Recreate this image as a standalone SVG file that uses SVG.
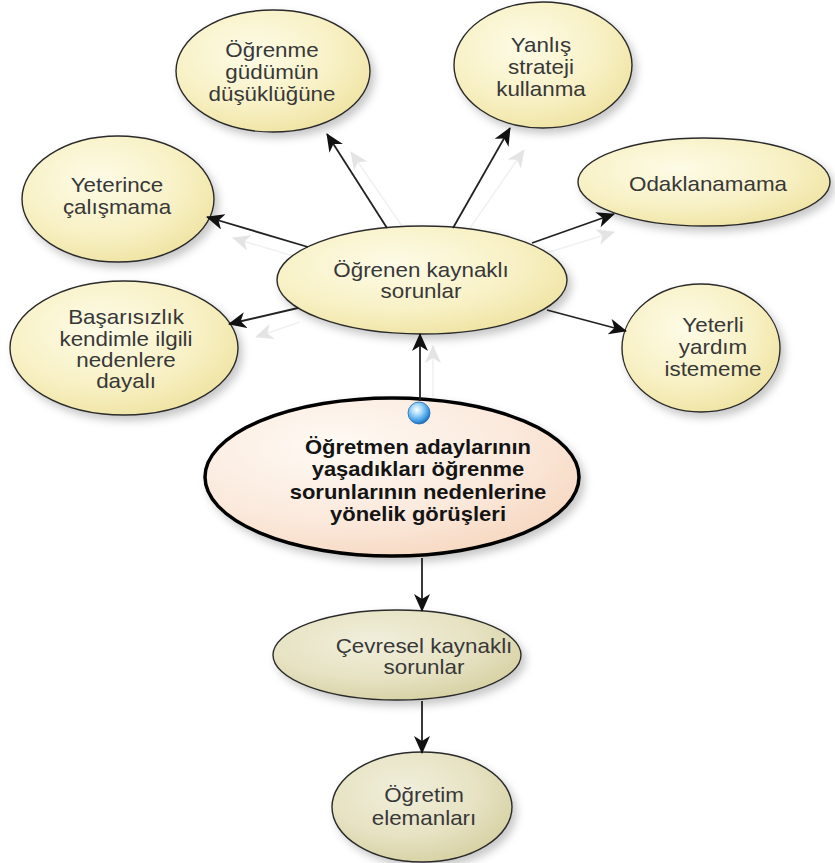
<svg xmlns="http://www.w3.org/2000/svg" width="835" height="863" viewBox="0 0 835 863">
  <defs>
    <radialGradient id="gYellow" cx="0.4" cy="0.35" r="0.7">
      <stop offset="0" stop-color="#fdfbe6"/>
      <stop offset="0.6" stop-color="#f8f1c6"/>
      <stop offset="1" stop-color="#efe3a2"/>
    </radialGradient>
    <radialGradient id="gOlive" cx="0.4" cy="0.35" r="0.7">
      <stop offset="0" stop-color="#f1efdc"/>
      <stop offset="0.6" stop-color="#e6e2c2"/>
      <stop offset="1" stop-color="#d6d0a2"/>
    </radialGradient>
    <radialGradient id="gPeach" cx="0.35" cy="0.3" r="0.8">
      <stop offset="0" stop-color="#fefaf4"/>
      <stop offset="0.6" stop-color="#fbe9dc"/>
      <stop offset="1" stop-color="#f6d6bd"/>
    </radialGradient>
    <radialGradient id="gBall" cx="0.4" cy="0.35" r="0.65">
      <stop offset="0" stop-color="#ffffff"/>
      <stop offset="0.35" stop-color="#a9dcfb"/>
      <stop offset="0.8" stop-color="#3d9be6"/>
      <stop offset="1" stop-color="#1f6fb8"/>
    </radialGradient>
    <filter id="shadow" x="-20%" y="-20%" width="150%" height="160%">
      <feDropShadow dx="4" dy="5" stdDeviation="4" flood-color="#000" flood-opacity="0.22"/>
    </filter>
    <marker id="arrow" markerUnits="userSpaceOnUse" markerWidth="20" markerHeight="16" refX="17" refY="8" orient="auto">
      <path d="M0,0 L18,8 L0,16 L5,8 z" fill="#111"/>
    </marker>
    <marker id="ghostArrow" markerUnits="userSpaceOnUse" markerWidth="20" markerHeight="16" refX="17" refY="8" orient="auto">
      <path d="M0,0 L18,8 L0,16 L5,8 z" fill="#e4e4e4"/>
    </marker>
    <style>
      .node { stroke: #2b2b2b; stroke-width: 1.4; filter: url(#shadow); }
      .yellow { fill: url(#gYellow); }
      .olive { fill: url(#gOlive); }
      .main { fill: url(#gPeach); stroke: #000; stroke-width: 3.5; }
      .lbl { font-family: "Liberation Sans", Arial, sans-serif; font-size: 20px; fill: #383838; text-anchor: middle; }
      .mainLbl { font-family: "Liberation Sans", Arial, sans-serif; font-size: 20px; font-weight: bold; fill: #141414; text-anchor: middle; }
      .edge { stroke: #222; stroke-width: 1.8; fill: none; marker-end: url(#arrow); }
      .ghost { stroke: #f1f1f1; stroke-width: 1.6; fill: none; marker-end: url(#ghostArrow); }
    </style>
  </defs>

  <rect width="835" height="863" fill="#ffffff"/>

  <!-- faint echo lines behind the connectors -->
  <g id="echoes">
    <line class="ghost" x1="433" y1="397" x2="433" y2="346"/>
    <line class="ghost" x1="402" y1="226" x2="351" y2="152"/>
    <line class="ghost" x1="470" y1="228" x2="524" y2="150"/>
    <line class="ghost" x1="540" y1="255" x2="614" y2="232"/>
    <line class="ghost" x1="300" y1="258" x2="233" y2="238"/>
    <line class="ghost" x1="300" y1="322" x2="256" y2="337"/>
  </g>

  <g id="n-ogrenme">
    <ellipse class="node yellow" cx="273" cy="71" rx="97" ry="61"/>
    <g transform="translate(272 0) scale(1.12 1)">
      <text class="lbl" x="0" y="57">Öğrenme</text>
      <text class="lbl" x="0" y="79">güdümün</text>
      <text class="lbl" x="0" y="101">düşüklüğüne</text>
    </g>
  </g>

  <g id="n-yanlis">
    <ellipse class="node yellow" cx="543" cy="65" rx="89" ry="63"/>
    <g transform="translate(541 0) scale(1.12 1)">
      <text class="lbl" x="0" y="52">Yanlış</text>
      <text class="lbl" x="0" y="74">strateji</text>
      <text class="lbl" x="0" y="96">kullanma</text>
    </g>
  </g>

  <g id="n-yeterince">
    <ellipse class="node yellow" cx="118" cy="199" rx="96" ry="63"/>
    <g transform="translate(117 0) scale(1.12 1)">
      <text class="lbl" x="0" y="192">Yeterince</text>
      <text class="lbl" x="0" y="214">çalışmama</text>
    </g>
  </g>

  <g id="n-odaklanamama">
    <ellipse class="node yellow" cx="704" cy="182" rx="126" ry="44"/>
    <g transform="translate(708 0) scale(1.12 1)">
      <text class="lbl" x="0" y="191">Odaklanamama</text>
    </g>
  </g>

  <g id="n-basarisizlik">
    <ellipse class="node yellow" cx="124" cy="348" rx="114" ry="67"/>
    <g transform="translate(126 0) scale(1.12 1)">
      <text class="lbl" x="0" y="324">Başarısızlık</text>
      <text class="lbl" x="0" y="346">kendimle ilgili</text>
      <text class="lbl" x="0" y="367">nedenlere</text>
      <text class="lbl" x="0" y="388">dayalı</text>
    </g>
  </g>

  <g id="n-yeterli">
    <ellipse class="node yellow" cx="701" cy="348" rx="79" ry="64"/>
    <g transform="translate(713 0) scale(1.12 1)">
      <text class="lbl" x="0" y="332">Yeterli</text>
      <text class="lbl" x="0" y="354">yardım</text>
      <text class="lbl" x="0" y="376">istememe</text>
    </g>
  </g>

  <g id="n-ogrenen">
    <ellipse class="node yellow" cx="422" cy="280" rx="145" ry="54"/>
    <g transform="translate(421 0) scale(1.12 1)">
      <text class="lbl" x="0" y="277">Öğrenen kaynaklı</text>
      <text class="lbl" x="0" y="298">sorunlar</text>
    </g>
  </g>

  <g id="n-main">
    <ellipse class="node main" cx="392" cy="477" rx="187" ry="79"/>
    <circle cx="419" cy="413" r="11" fill="url(#gBall)" stroke="#2a6fb0" stroke-width="0.8"/>
    <g transform="translate(418 0) scale(1.1 1)">
      <text class="mainLbl" x="0" y="454">Öğretmen adaylarının</text>
      <text class="mainLbl" x="0" y="476">yaşadıkları öğrenme</text>
      <text class="mainLbl" x="0" y="499">sorunlarının nedenlerine</text>
      <text class="mainLbl" x="0" y="521">yönelik görüşleri</text>
    </g>
  </g>

  <g id="n-cevresel">
    <ellipse class="node olive" cx="397" cy="655" rx="124" ry="45"/>
    <g transform="translate(424 0) scale(1.12 1)">
      <text class="lbl" x="0" y="653">Çevresel kaynaklı</text>
      <text class="lbl" x="0" y="674">sorunlar</text>
    </g>
  </g>

  <g id="n-ogretim">
    <ellipse class="node olive" cx="422" cy="807" rx="90" ry="55"/>
    <g transform="translate(424 0) scale(1.12 1)">
      <text class="lbl" x="0" y="802">Öğretim</text>
      <text class="lbl" x="0" y="825">elemanları</text>
    </g>
  </g>

  <g id="connectors">
    <line class="edge" x1="420" y1="401" x2="420" y2="334"/>
    <line class="edge" x1="422" y1="558" x2="422" y2="611"/>
    <line class="edge" x1="422" y1="701" x2="422" y2="753"/>
    <line class="edge" x1="387" y1="228" x2="327" y2="134"/>
    <line class="edge" x1="453" y1="228" x2="510" y2="128"/>
    <line class="edge" x1="308" y1="247" x2="207" y2="217"/>
    <line class="edge" x1="532" y1="243" x2="614" y2="214"/>
    <line class="edge" x1="298" y1="308" x2="229" y2="324"/>
    <line class="edge" x1="547" y1="310" x2="626" y2="331"/>
  </g>
</svg>
